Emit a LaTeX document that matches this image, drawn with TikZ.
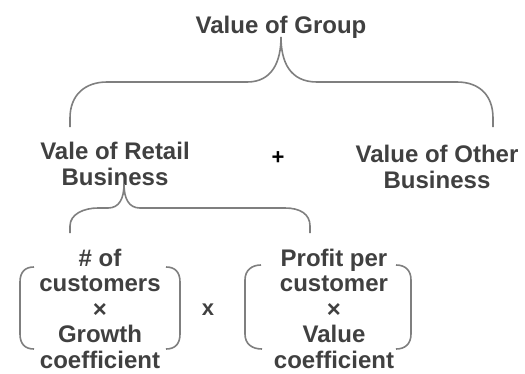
\documentclass[tikz,border=0pt]{standalone}
\usepackage{fontspec}
\setmainfont{Liberation Sans}
\begin{document}
\begin{tikzpicture}[x=1pt,y=-1pt,
  lbl/.style={font=\fontsize{24}{25.5}\selectfont\bfseries, text=txtgray,
    align=center, inner sep=0pt, anchor=base},
  opsign/.style={font=\fontsize{22}{24}\selectfont\bfseries, inner sep=0pt},
  brace/.style={draw=linegray, line width=1.6pt, line cap=butt}]
\definecolor{txtgray}{HTML}{404040}
\definecolor{linegray}{HTML}{7F7F7F}
\useasboundingbox (0,0) rectangle (525,373);

% labels (anchored at the baseline of their last line)
\node[lbl] (group)  at (281,33)  {Value of Group};
\node[lbl] (retail) at (115,185) {Vale of Retail\\Business};
\node[lbl] (other)  at (437,188) {Value of Other\\Business};
\node[opsign, text=black] (plus) at (278,158) {+};
\node[lbl] (cust)   at (100,368) {\# of\\customers\\×\\Growth\\coefficient};
\node[lbl] (profit) at (334,368) {Profit per\\customer\\×\\Value\\coefficient};
\node[opsign, text=txtgray] (times) at (208,310) {x};

% brace joining the group value to its two parts
\coordinate (gtip) at (281,37);
\draw[brace] (70,127) -- (70,118) .. controls (70,95) and (85,82) .. (107,82)
  -- (247,82) .. controls (272,82) and (281,62) .. (gtip)
  .. controls (281,62) and (290,82) .. (317,82)
  -- (457,82) .. controls (479,82) and (493,95) .. (493,118) -- (493,127);

% brace joining the retail value to its two factors
\coordinate (rtip) at (124,184);
\draw[brace] (70,233) -- (70,226) .. controls (70,214) and (84,208) .. (98,208)
  -- (108,208) .. controls (119,208) and (124,199) .. (rtip)
  .. controls (124,199) and (129,208) .. (140,208)
  -- (285,208) .. controls (300,208) and (310,214) .. (310,226) -- (310,233);

% round brackets around each factor
\draw[brace] (34,267) .. controls (25,267) and (20,272) .. (20,282) -- (20,334)
  .. controls (20,344) and (25,349) .. (34,349);
\draw[brace] (166,267) .. controls (175,267) and (180,272) .. (180,282) -- (180,334)
  .. controls (180,344) and (175,349) .. (166,349);
\draw[brace] (261,265) .. controls (252,265) and (245,270) .. (245,280) -- (245,334)
  .. controls (245,344) and (252,349) .. (262,349);
\draw[brace] (396,265) .. controls (405,265) and (411,270) .. (411,280) -- (411,334)
  .. controls (411,344) and (405,349) .. (396,349);
\end{tikzpicture}
\end{document}
